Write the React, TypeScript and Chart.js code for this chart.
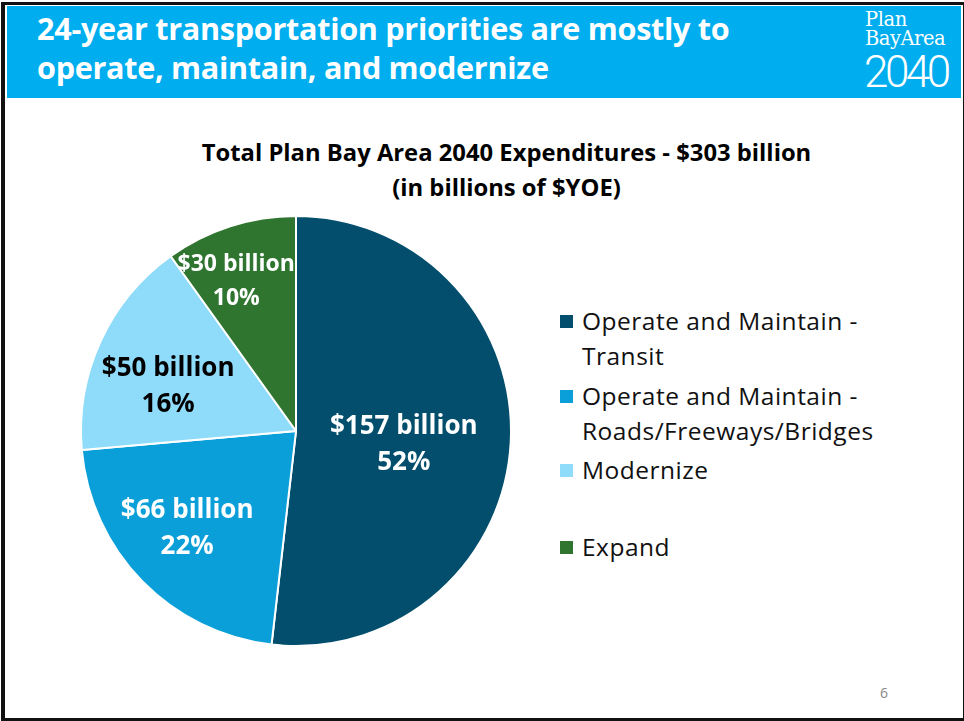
import React, { useEffect, useRef } from "react";
import { Chart, registerables } from "chart.js";

Chart.register(...registerables);

const categories = [
  "Operate and Maintain - Transit",
  "Operate and Maintain - Roads/Freeways/Bridges",
  "Modernize",
  "Expand",
];
const legendLines = [
  ["Operate and Maintain -", "Transit"],
  ["Operate and Maintain -", "Roads/Freeways/Bridges"],
  ["Modernize"],
  ["Expand"],
];
const values = [157, 66, 50, 30];
const amountLabels = ["$157 billion", "$66 billion", "$50 billion", "$30 billion"];
const percentLabels = ["52%", "22%", "16%", "10%"];
const colors = ["#024e6c", "#0a9fd9", "#8edcfa", "#2f7530"];
const labelColors = ["#ffffff", "#ffffff", "#000000", "#ffffff"];

const titleLines = ["Total Plan Bay Area 2040 Expenditures - $303 billion", "(in billions of $YOE)"];
const headerLines = ["24-year transportation priorities are mostly to", "operate, maintain, and modernize"];

// label anchor within each slice: fraction along the arc, fraction of radius, font size, line gap
const labelAnchors = [
  { t: 0.52, r: 0.505, size: 26, gap: 18 },
  { t: 0.53, r: 0.68, size: 26, gap: 18 },
  { t: 0.41, r: 0.63, size: 26, gap: 18 },
  { t: 0.39, r: 0.75, size: 23, gap: 17 },
];

const FONT = "'Open Sans', 'Noto Sans', sans-serif";

const sliceLabelPlugin = {
  id: "sliceLabels",
  afterDatasetsDraw(chart: any) {
    const ctx = chart.ctx;
    const meta = chart.getDatasetMeta(0);
    ctx.save();
    ctx.textAlign = "center";
    ctx.textBaseline = "middle";
    meta.data.forEach((arc: any, i: number) => {
      const { x, y, startAngle, endAngle, outerRadius } = arc.getProps(
        ["x", "y", "startAngle", "endAngle", "outerRadius"],
        true
      );
      const a = labelAnchors[i];
      const ang = startAngle + (endAngle - startAngle) * a.t;
      const cx = x + Math.cos(ang) * outerRadius * a.r;
      const cy = y + Math.sin(ang) * outerRadius * a.r;
      ctx.font = `bold ${a.size}px ${FONT}`;
      ctx.fillStyle = labelColors[i];
      ctx.fillText(amountLabels[i], cx, cy - a.gap);
      ctx.fillText(percentLabels[i], cx, cy + a.gap);
    });
    ctx.restore();
  },
};

export default function App() {
  const canvasRef = useRef<HTMLCanvasElement | null>(null);

  useEffect(() => {
    if (!canvasRef.current) return;
    const chart = new Chart(canvasRef.current, {
      type: "pie",
      data: {
        labels: categories,
        datasets: [
          {
            data: values,
            backgroundColor: colors,
            borderColor: "#ffffff",
            borderWidth: 2,
          },
        ],
      },
      options: {
        animation: false,
        responsive: false,
        radius: 215,
        layout: { padding: 0 },
        plugins: {
          legend: { display: false },
          tooltip: { enabled: false },
          title: { display: false },
        },
      } as any,
      plugins: [sliceLabelPlugin],
    });
    return () => chart.destroy();
  }, []);

  return (
    <div
      style={{
        position: "absolute",
        left: 1,
        top: 2,
        width: 958,
        height: 713,
        borderLeft: "4px solid #111",
        borderTop: "3px solid #111",
        borderRight: "3px solid #111",
        borderBottom: "3px solid #111",
        background: "#fff",
        fontFamily: FONT,
      }}
    >
      <div
        style={{
          position: "absolute",
          left: 2,
          top: 1,
          width: 954,
          height: 92,
          background: "#00adee",
        }}
      >
        {headerLines.map((t, i) => (
          <div
            key={i}
            style={{
              position: "absolute",
              left: 30,
              top: 2 + i * 39,
              color: "#fff",
              fontWeight: 700,
              fontSize: 30.6,
              lineHeight: "40px",
              whiteSpace: "nowrap",
              letterSpacing: -0.3,
            }}
          >
            {t}
          </div>
        ))}
        <div style={{ position: "absolute", left: 858, top: 4, color: "#fff", fontFamily: "'DejaVu Serif', serif", fontSize: 19.5, lineHeight: "20px", letterSpacing: -0.4 }}>Plan</div>
        <div style={{ position: "absolute", left: 858, top: 23, color: "#fff", fontFamily: "'DejaVu Serif', serif", fontSize: 19.5, lineHeight: "20px", letterSpacing: -0.5 }}>BayArea</div>
        <div style={{ position: "absolute", left: 857, top: 42, color: "#fff", fontFamily: "Roboto, sans-serif", fontWeight: 300, fontSize: 44, lineHeight: "48px", letterSpacing: -3.5 }}>2040</div>
      </div>

      {titleLines.map((t, i) => (
        <div
          key={i}
          style={{
            position: "absolute",
            left: 0,
            width: 1003,
            textAlign: "center",
            top: 131 + i * 35,
            fontWeight: 700,
            fontSize: 23.8,
            lineHeight: "32px",
            color: "#000",
            whiteSpace: "nowrap",
          }}
        >
          {t}
        </div>
      ))}

      <canvas
        ref={canvasRef}
        width={460}
        height={460}
        style={{ position: "absolute", left: 61, top: 196, width: 460, height: 460 }}
      />

      <div style={{ position: "absolute", left: 555, top: 0 }}>
        {legendLines.map((lines, i) => (
          <div
            key={i}
            style={{
              position: "absolute",
              left: 0,
              top: [296, 371, 445, 522][i],
              whiteSpace: "nowrap",
            }}
          >
            <span
              style={{
                position: "absolute",
                left: 0,
                top: 14,
                width: 13,
                height: 13,
                background: colors[i],
              }}
            />
            {lines.map((l, j) => (
              <div
                key={j}
                style={{
                  position: "absolute",
                  left: 22,
                  top: j * 35,
                  fontSize: 24.5,
                  letterSpacing: 0.5,
                  lineHeight: "40px",
                  color: "#111",
                }}
              >
                {l}
              </div>
            ))}
          </div>
        ))}
      </div>

      <div style={{ position: "absolute", left: 875, top: 678, fontSize: 14, color: "#888" }}>6</div>
    </div>
  );
}
